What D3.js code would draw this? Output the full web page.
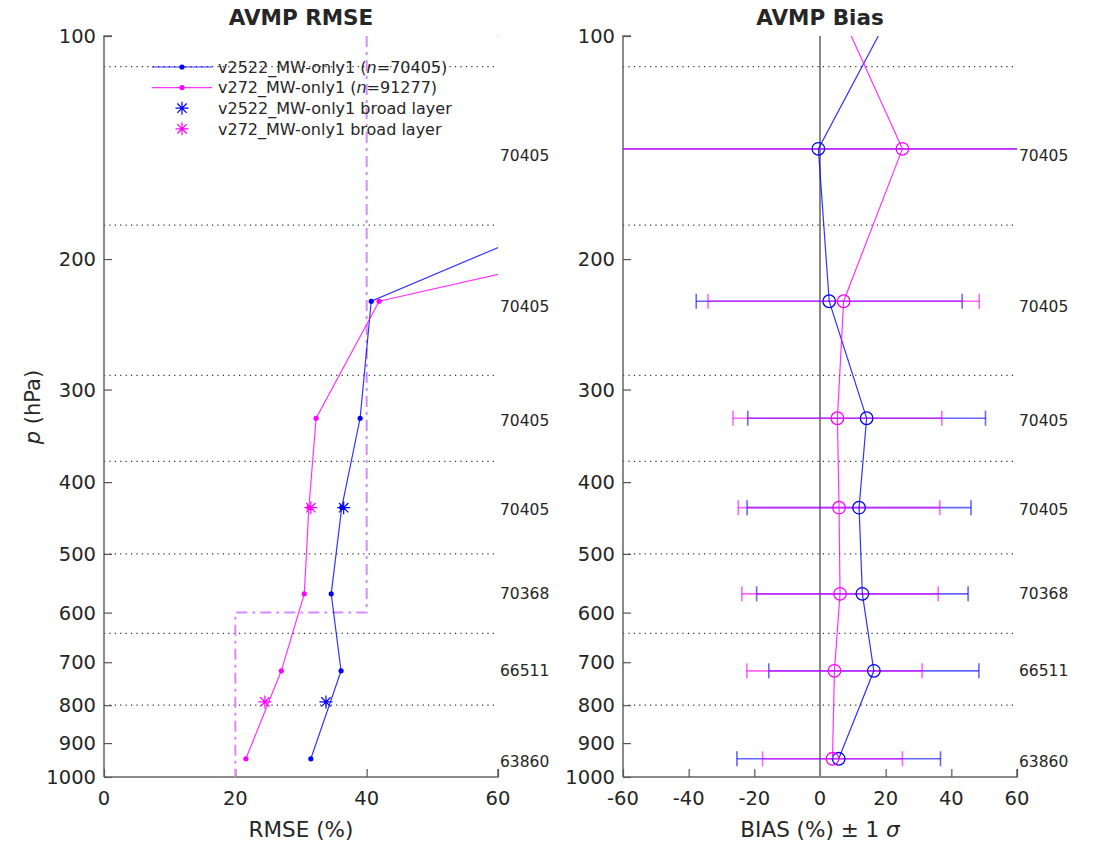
<!DOCTYPE html>
<html>
<head>
<meta charset="utf-8">
<script src="https://cdn.jsdelivr.net/npm/d3@7"></script>
<style>
  body { margin: 0; background: #fff; }
  text { font-family: "DejaVu Sans", sans-serif; fill: #262626; }
</style>
</head>
<body>
<svg id="chart" width="1097" height="844"></svg>
<script>
// layer centre pressures (hPa); first one sits above the plotted range
var pressures = [86, 142, 228, 328, 433, 566, 719, 945];

// sample counts written right of each panel, and where they sit (hPa)
var counts = [70405, 70405, 70405, 70405, 70368, 66511, 63860];
var countP = [145, 232, 330, 435, 566, 719, 952];

var rmseA = [44.8, 95.5, 40.7, 39.0, 36.2, 34.6, 36.1, 31.5];   // v2522_MW-only1
var rmseB = [120, 144.5, 41.9, 32.3, 31.2, 30.5, 27.0, 21.6];   // v272_MW-only1

var biasA = [25.6, -0.5, 2.8, 14.2, 11.9, 12.9, 16.4, 5.7];
var biasB = [2.8, 25.1, 7.2, 5.3, 5.8, 6.1, 4.4, 3.8];
var sdA = [60, 90, 40.5, 36.2, 34.1, 32.2, 32.0, 31.0];
var sdB = [60, 100, 41.3, 31.8, 30.7, 29.9, 26.7, 21.3];

// broad layer
var broadP = [433, 792];
var broadA = [36.5, 33.8];
var broadB = [31.5, 24.5];

// requirement line
var reqP = [100, 600, 600, 1000];
var reqV = [40, 40, 20, 20];

var layerEdges = [110, 180, 287, 375, 500, 640, 800];
var pTicks = [100, 200, 300, 400, 500, 600, 700, 800, 900, 1000];
var rmseTicks = [0, 20, 40, 60];
var biasTicks = [-60, -40, -20, 0, 20, 40, 60];

var blue = "#0000ff", magenta = "#ff00ff";
var svg = d3.select("#chart");
var top0 = 36, bot0 = 777;

var y = d3.scaleLog().domain([100, 1000]).range([top0, bot0]);
var xL = d3.scaleLinear().domain([0, 60]).range([104, 498]);
var xR = d3.scaleLinear().domain([-60, 60]).range([623, 1017]);

function star(g, cx, cy, color) {
  var r = 6.5, d = r * 0.72;
  g.append("path")
    .attr("d", "M" + (cx - r) + "," + cy + "H" + (cx + r) +
               "M" + cx + "," + (cy - r) + "V" + (cy + r) +
               "M" + (cx - d) + "," + (cy - d) + "L" + (cx + d) + "," + (cy + d) +
               "M" + (cx - d) + "," + (cy + d) + "L" + (cx + d) + "," + (cy - d))
    .attr("stroke", color).attr("stroke-width", 1.2).attr("fill", "none");
}

function panel(id, x, ticks, title, xlabel) {
  var x0 = x.range()[0], x1 = x.range()[1];
  var g = svg.append("g");
  g.append("clipPath").attr("id", id).append("rect")
    .attr("x", x0).attr("y", top0).attr("width", x1 - x0).attr("height", bot0 - top0);

  // dotted layer edges
  g.selectAll(".edge").data(layerEdges).enter().append("line")
    .attr("x1", x0).attr("x2", x1)
    .attr("y1", function(d) { return y(d); }).attr("y2", function(d) { return y(d); })
    .attr("stroke", "#333").attr("stroke-width", 1.2).attr("stroke-dasharray", "1.2,4.2");

  // axes, ticks inside
  var ya = g.append("g").attr("transform", "translate(" + x0 + ",0)")
    .call(d3.axisRight(y).tickValues(pTicks).tickSize(8).tickFormat(""));
  var xa = g.append("g").attr("transform", "translate(0," + bot0 + ")")
    .call(d3.axisTop(x).tickValues(ticks).tickSize(8).tickFormat(""));
  [ya, xa].forEach(function(a) {
    a.select(".domain").attr("stroke", "#666").attr("stroke-width", 1.5);
    a.selectAll(".tick line").attr("stroke", "#555").attr("stroke-width", 1.2);
  });
  ya.select(".domain").attr("d", "M8," + top0 + "H0V" + bot0);
  xa.select(".domain").attr("d", "M" + x0 + ",0H" + x1 + "V-8");

  g.selectAll(".pl").data(pTicks).enter().append("text")
    .attr("x", x0 - 8).attr("y", function(d) { return y(d); }).attr("dy", "0.36em")
    .attr("text-anchor", "end").attr("font-size", 19.5).text(function(d) { return d; });
  g.selectAll(".xl").data(ticks).enter().append("text")
    .attr("x", function(d) { return x(d); }).attr("y", bot0 + 28)
    .attr("text-anchor", "middle").attr("font-size", 19.5).text(function(d) { return d; });

  g.append("text").attr("x", (x0 + x1) / 2).attr("y", 25)
    .attr("text-anchor", "middle").attr("font-size", 21.5).attr("font-weight", "bold").text(title);

  var xl = g.append("text").attr("x", (x0 + x1) / 2).attr("y", bot0 + 60)
    .attr("text-anchor", "middle").attr("font-size", 21.5);
  xlabel(xl);

  // counts on the right
  g.selectAll(".cnt").data(counts).enter().append("text")
    .attr("x", x1 + 2).attr("y", function(d, i) { return y(countP[i]); }).attr("dy", "0.36em")
    .attr("font-size", 15.5).text(function(d) { return d; });

  return g.append("g").attr("clip-path", "url(#" + id + ")");
}

// ---------- left: RMSE ----------
var pl = panel("clipL", xL, rmseTicks, "AVMP RMSE", function(t) { t.text("RMSE (%)"); });

pl.append("path").datum(reqP.map(function(p, i) { return [xL(reqV[i]), y(p)]; }))
  .attr("d", d3.line()).attr("fill", "none").attr("stroke", "#d58bff")
  .attr("stroke-width", 2).attr("stroke-dasharray", "11,5,3,5");

[[rmseA, blue], [rmseB, magenta]].forEach(function(s) {
  var pts = pressures.map(function(p, i) { return [xL(s[0][i]), y(p)]; });
  pl.append("path").datum(pts).attr("d", d3.line()).attr("fill", "none")
    .attr("stroke", s[1]).attr("stroke-width", 1.2).attr("stroke-opacity", 0.8);
  pl.selectAll(null).data(pts).enter().append("circle")
    .attr("cx", function(d) { return d[0]; }).attr("cy", function(d) { return d[1]; })
    .attr("r", 2.6).attr("fill", s[1]);
});
broadP.forEach(function(p, i) {
  star(pl, xL(broadA[i]), y(p), blue);
  star(pl, xL(broadB[i]), y(p), magenta);
});

// y label
var yl = svg.append("text").attr("transform", "translate(40,407) rotate(-90)")
  .attr("text-anchor", "middle").attr("font-size", 21);
yl.append("tspan").attr("font-style", "italic").text("p");
yl.append("tspan").text(" (hPa)");

// legend
var lg = svg.append("g");
var legendRows = [
  {c: blue, type: "line", pre: "v2522_MW-only1 (", n: "70405"},
  {c: magenta, type: "line", pre: "v272_MW-only1 (", n: "91277"},
  {c: blue, type: "star", text: "v2522_MW-only1 broad layer"},
  {c: magenta, type: "star", text: "v272_MW-only1 broad layer"}
];
legendRows.forEach(function(r, i) {
  var ly = 67 + i * 20.6;
  if (r.type === "line") {
    lg.append("line").attr("x1", 152).attr("x2", 212).attr("y1", ly).attr("y2", ly)
      .attr("stroke", r.c).attr("stroke-width", 1.2).attr("stroke-opacity", 0.8);
    lg.append("circle").attr("cx", 182).attr("cy", ly).attr("r", 2.6).attr("fill", r.c);
    var t = lg.append("text").attr("x", 218).attr("y", ly).attr("dy", "0.36em").attr("font-size", 16);
    t.append("tspan").text(r.pre);
    t.append("tspan").attr("font-style", "italic").text("n");
    t.append("tspan").text("=" + r.n + ")");
  } else {
    star(lg, 182, ly, r.c);
    lg.append("text").attr("x", 218).attr("y", ly).attr("dy", "0.36em").attr("font-size", 16).text(r.text);
  }
});

// ---------- right: Bias ----------
var pr = panel("clipR", xR, biasTicks, "AVMP Bias", function(t) {
  t.append("tspan").text("BIAS (%) \u00b1 1 ");
  t.append("tspan").attr("font-style", "italic").text("\u03c3");
});

pr.append("line").attr("x1", xR(0)).attr("x2", xR(0)).attr("y1", top0).attr("y2", bot0)
  .attr("stroke", "#888").attr("stroke-width", 2);

[[biasA, sdA, blue], [biasB, sdB, magenta]].forEach(function(s) {
  var eb = pr.append("g").attr("stroke", s[2]).attr("stroke-opacity", 0.6).attr("stroke-width", 1.6);
  pressures.forEach(function(p, i) {
    var lo = xR(s[0][i] - s[1][i]), hi = xR(s[0][i] + s[1][i]), yy = y(p);
    eb.append("line").attr("x1", lo).attr("x2", hi).attr("y1", yy).attr("y2", yy);
    eb.append("line").attr("x1", lo).attr("x2", lo).attr("y1", yy - 7.5).attr("y2", yy + 7.5);
    eb.append("line").attr("x1", hi).attr("x2", hi).attr("y1", yy - 7.5).attr("y2", yy + 7.5);
  });
});
[[biasA, blue], [biasB, magenta]].forEach(function(s) {
  var pts = pressures.map(function(p, i) { return [xR(s[0][i]), y(p)]; });
  pr.append("path").datum(pts).attr("d", d3.line()).attr("fill", "none")
    .attr("stroke", s[1]).attr("stroke-width", 1.2).attr("stroke-opacity", 0.8);
  pr.selectAll(null).data(pts).enter().append("circle")
    .attr("cx", function(d) { return d[0]; }).attr("cy", function(d) { return d[1]; })
    .attr("r", 6.3).attr("fill", "none").attr("stroke", s[1]).attr("stroke-width", 1.3);
});
</script>
</body>
</html>
